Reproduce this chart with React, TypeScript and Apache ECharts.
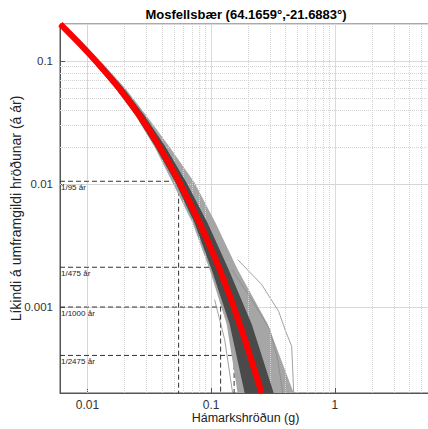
import React, { useEffect, useRef } from 'react';
import * as echarts from 'echarts';

const titleText = 'Mosfellsbær (64.1659°,-21.6883°)';
const xName = 'Hámarkshröðun (g)';
const yName = 'Líkindi á umframgildi hröðunar (á ár)';
const xRange = [0.006, 6];
const yRange = [0.0002, 0.2];

// mean hazard curve (red)
const meanX = [0.00604, 0.00861, 0.0125, 0.0182, 0.0264, 0.0383, 0.0556, 0.0807, 0.1172, 0.1701, 0.2564];
const meanY = [0.1995, 0.1387, 0.0924, 0.0594, 0.0359, 0.02, 0.01024, 0.00481, 0.00202, 0.000729, 0.0002];

// envelope of the ensemble of gray curves (same probability levels as the mean)
const bandLeftX = [0.006, 0.00814, 0.01171, 0.01689, 0.0245, 0.0349, 0.0488, 0.0708, 0.0973, 0.1335, 0.1639];
const bandRightX = [0.00651, 0.00936, 0.01372, 0.02035, 0.03008, 0.04615, 0.07355, 0.10875, 0.1639, 0.2867, 0.4656];
// dense core of the ensemble
const coreLeftX = [0.006, 0.00814, 0.01182, 0.01705, 0.02473, 0.03555, 0.0516, 0.07352, 0.101, 0.1412, 0.1867];
const coreRightX = [0.00639, 0.00919, 0.01347, 0.01979, 0.02898, 0.04283, 0.06335, 0.09369, 0.1386, 0.2128, 0.3207];

// a few individual outlying curves
const outAX = [0.164, 0.2564, 0.352, 0.401, 0.4485, 0.4656];
const outAY = [0.00243, 0.001525, 0.000921, 0.000634, 0.000479, 0.0002];
const outBX = [0.1466, 0.2128, 0.2977, 0.3454, 0.3793];
const outBY = [0.00202, 0.00115, 0.000658, 0.000376, 0.0002];
const outCX = [0.1067, 0.1286, 0.1493];
const outCY = [0.00115, 0.000546, 0.0002];

// return periods
const rpLabels = ['1/95 år', '1/475 år', '1/1000 år', '1/2475 år'];
const rpProb = [1 / 95, 1 / 475, 1 / 1000, 1 / 2475];
const rpPga = [0.0546, 0.1194, 0.1535, 0.1974];

// minor grid positions
const minorX = [0.007, 0.008, 0.009, 0.02, 0.03, 0.04, 0.05, 0.06, 0.07, 0.08, 0.09, 0.2, 0.3, 0.4, 0.5, 0.6, 0.7, 0.8, 0.9, 2, 3, 4, 5];
const minorY = [0.0003, 0.0004, 0.0005, 0.0006, 0.0007, 0.0008, 0.0009, 0.002, 0.003, 0.004, 0.005, 0.006, 0.007, 0.008, 0.009, 0.02, 0.03, 0.04, 0.05, 0.06, 0.07, 0.08, 0.09];

export default function App() {
  const ref = useRef<HTMLDivElement>(null);
  useEffect(() => {
    const chart = echarts.init(ref.current!, null, { renderer: 'svg' });
    const font = "'Liberation Sans', Arial, Helvetica, sans-serif";
    const pairs = (xs: number[], ys: number[]) => xs.map((x, i) => [x, ys[i]]);
    const fmt = (v: number) => String(parseFloat(Number(v).toPrecision(3)));
    const poly = (lx: number[], rx: number[], ys: number[], fill: string) => (params: any, api: any) => {
      const pts: number[][] = [];
      for (let i = 0; i < ys.length; i++) pts.push(api.coord([lx[i], ys[i]]));
      for (let i = ys.length - 1; i >= 0; i--) pts.push(api.coord([rx[i], ys[i]]));
      return { type: 'polygon', shape: { points: pts }, style: { fill } };
    };
    const dashedSeries = rpLabels.map((lab, i) => ({
      type: 'line',
      z: 2,
      silent: true,
      symbolSize: 0,
      showSymbol: true,
      lineStyle: { color: '#333', width: 1, type: [5, 3] },
      data: [
        {
          value: [xRange[0], rpProb[i]],
          label: {
            show: true, position: 'right', distance: 1, offset: [0, 6],
            formatter: lab, fontSize: 8, color: '#222', fontFamily: font,
          },
        },
        [rpPga[i], rpProb[i]],
        [rpPga[i], yRange[0]],
      ],
    }));
    const outlier = (xs: number[], ys: number[]) => ({
      type: 'line', z: 4, silent: true, showSymbol: false,
      lineStyle: { color: '#8a8a8a', width: 0.8 },
      data: pairs(xs, ys),
    });
    chart.setOption({
      animation: false,
      title: {
        text: titleText, left: 246, top: 8, padding: 0, textAlign: 'center',
        textStyle: { fontSize: 13, fontWeight: 'bold', color: '#000', fontFamily: font },
      },
      grid: {
        left: 60, top: 24, width: 371, height: 369, show: true, borderColor: '#555', borderWidth: 1,
        containLabel: false, outerBoundsMode: 'none',
      },
      xAxis: {
        type: 'log', logBase: 10, min: xRange[0], max: xRange[1],
        name: xName, nameLocation: 'middle', nameGap: 18.5, nameMoveOverlap: false,
        nameTextStyle: { fontSize: 12.5, color: '#222', fontFamily: font },
        axisLine: { show: true, lineStyle: { color: '#555' } },
        axisTick: { show: true, inside: true, length: 5, lineStyle: { color: '#555' } },
        axisLabel: { formatter: fmt, showMinLabel: false, showMaxLabel: false, fontSize: 12, color: '#333', margin: 6, fontFamily: font },
        splitLine: { show: true, lineStyle: { color: '#dadada' } },
      },
      yAxis: {
        type: 'log', logBase: 10, min: yRange[0], max: yRange[1],
        name: yName, nameLocation: 'middle', nameGap: 37, nameRotate: 90, nameMoveOverlap: false,
        nameTextStyle: { fontSize: 14, color: '#222', fontFamily: font },
        axisLine: { show: true, lineStyle: { color: '#555' } },
        axisTick: { show: true, inside: true, length: 5, lineStyle: { color: '#555' } },
        axisLabel: { formatter: fmt, showMinLabel: false, showMaxLabel: false, fontSize: 11.5, color: '#333', margin: 7, fontFamily: font },
        splitLine: { show: true, lineStyle: { color: '#dadada' } },
      },
      series: [
        {
          type: 'line', z: 1, silent: true, data: [],
          markLine: {
            silent: true, symbol: ['none', 'none'], label: { show: false },
            lineStyle: { type: 'dotted', color: '#d2d2d2', width: 1 },
            data: [...minorX.map((x) => ({ xAxis: x })), ...minorY.map((y) => ({ yAxis: y }))],
          },
        },
        ...dashedSeries,
        {
          type: 'custom', z: 3, silent: true, data: [[0.05, 0.01]],
          renderItem: poly(bandLeftX, bandRightX, meanY, '#a6a6a6'),
        },
        outlier(outAX, outAY),
        outlier(outBX, outBY),
        outlier(outCX, outCY),
        {
          type: 'custom', z: 5, silent: true, data: [[0.05, 0.01]],
          renderItem: poly(coreLeftX, coreRightX, meanY, '#4a4a4a'),
        },
        {
          type: 'line', z: 6, silent: true, showSymbol: false, smooth: 0.3,
          lineStyle: { color: '#ff0000', width: 6 },
          data: pairs(meanX, meanY),
        },
      ],
    });
    return () => chart.dispose();
  }, []);
  return <div ref={ref} style={{ position: 'absolute', left: 0, top: 0, width: 428, height: 429 }} />;
}
